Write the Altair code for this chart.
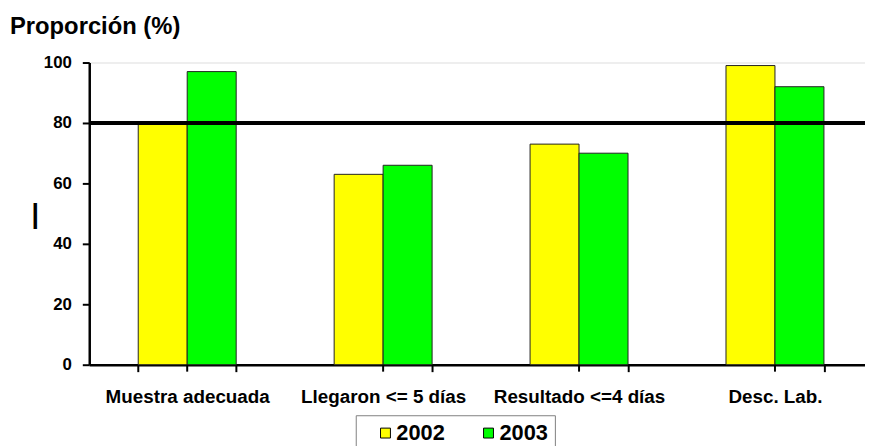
import altair as alt
import pandas as pd

categories = ["Muestra adecuada", "Llegaron <= 5 días", "Resultado <=4 días", "Desc. Lab."]
years = ["2002", "2003"]
v2002 = [80, 63, 73, 99]
v2003 = [97, 66, 70, 92]
threshold = 80
title_text = ["Proporción (%)"]

rows = []
for c, a, b in zip(categories, v2002, v2003):
    rows.append({"cat": c, "year": years[0], "val": a})
    rows.append({"cat": c, "year": years[1], "val": b})
df = pd.DataFrame(rows)
cat_df = pd.DataFrame({"cat": categories})
thr_df = pd.DataFrame({"thr": [threshold]})
title_df = pd.DataFrame({"t": title_text})

FONT = "Liberation Sans"

xscale = alt.Scale(domain=categories, range=[0, 791], paddingInner=0.5, paddingOuter=0.25)

bars = alt.Chart(df).mark_bar(stroke="#222222", strokeWidth=1).encode(
    x=alt.X("cat:N", scale=xscale, sort=categories,
            axis=alt.Axis(title=None, labelAngle=0, labelFontSize=19, labelFontWeight="bold",
                          labelFont=FONT, labelColor="black", labelPadding=16,
                          tickSize=7, tickWidth=2, tickColor="black", tickBand="extent",
                          domainColor="black", domainWidth=2.5, labelBaseline="top")),
    xOffset=alt.XOffset("year:N", sort=years),
    y=alt.Y("val:Q", scale=alt.Scale(domain=[0, 100], nice=False),
            axis=alt.Axis(values=[0, 20, 40, 60, 80, 100], grid=False, title="|",
                          titleAngle=0, titleX=-55, titleY=153, titleAlign="center",
                          titleBaseline="middle", titleFont=FONT, titleFontSize=27,
                          titleFontWeight="bold", titleColor="black",
                          labelFontSize=17, labelFontWeight="bold", labelFont=FONT,
                          labelColor="black", labelPadding=11, tickSize=7, tickWidth=2,
                          tickColor="black", domainColor="black", domainWidth=2.5)),
    color=alt.Color("year:N", sort=years,
                    scale=alt.Scale(domain=years, range=["#FFFF00", "#00FF00"]),
                    legend=alt.Legend(title=None, orient="none", legendX=269, legendY=356,
                                      direction="horizontal", symbolType="square",
                                      symbolSize=100, symbolStrokeColor="black",
                                      symbolStrokeWidth=1, labelFont=FONT, labelFontSize=22,
                                      labelFontWeight="bold", labelColor="black",
                                      labelOffset=0, columnPadding=21, padding=7,
                                      symbolOffset=12, strokeColor="#808080",
                                      fillColor="white")),
)

center_ticks = alt.Chart(cat_df).mark_rule(color="black", strokeWidth=2).encode(
    x=alt.X("cat:N", scale=xscale, sort=categories),
    y=alt.value(305),
    y2=alt.value(312),
)

rule = alt.Chart(thr_df).mark_rule(color="black", strokeWidth=4).encode(
    y=alt.Y("thr:Q"),
    x=alt.value(0),
    x2=alt.value(791),
)

title = alt.Chart(title_df).mark_text(
    align="left", baseline="alphabetic", font=FONT, fontSize=24, fontWeight="bold", color="black"
).encode(text="t:N", x=alt.value(-80), y=alt.value(-29))

chart = alt.layer(bars, center_ticks, rule, title).properties(
    width=783,
    height=305,
    autosize=alt.AutoSizeParams(type="none"),
    padding={"left": 82, "right": 0, "top": 53, "bottom": 80},
).configure_view(stroke=None).configure(background="white")

chart.save("out.html", embed_options={"renderer": "svg", "actions": False})
